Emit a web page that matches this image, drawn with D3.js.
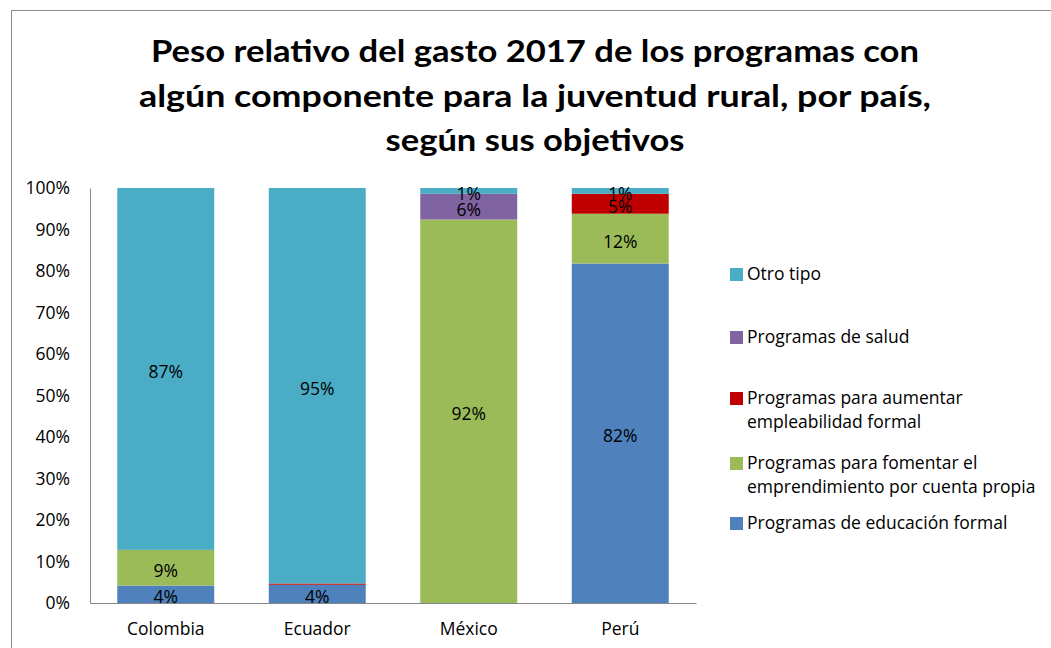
<!DOCTYPE html>
<html><head><meta charset="utf-8">
<script src="https://cdn.jsdelivr.net/npm/d3@7"></script>
<style>body{margin:0;background:#fff}svg{display:block}text{font-family:"Open Sans",sans-serif}</style>
</head><body>
<svg id="c" width="1051" height="648"></svg>
<script>
const categories = ["Colombia","Ecuador","México","Perú"];
const seriesNames = ["Programas de educación formal","Programas para fomentar el emprendimiento por cuenta propia","Programas para aumentar empleabilidad formal","Programas de salud","Otro tipo"];
const educacion   = [4.2, 4.4, 0, 81.8];
const emprende    = [8.6, 0, 92.4, 12.0];
const empleo      = [0, 0.3, 0, 4.8];
const salud       = [0, 0, 6.2, 0];
const otro        = [87.2, 95.3, 1.4, 1.4];
const yTicks = [0,10,20,30,40,50,60,70,80,90,100];
const colors = ["#4F81BD","#9BBB59","#C00000","#8064A2","#4BACC6"];
const titleLines = ["Peso relativo del gasto 2017 de los programas con","algún componente para la juventud rural, por país,","según sus objetivos"];
const legendLines = [["Otro tipo"],["Programas de salud"],["Programas para aumentar","empleabilidad formal"],["Programas para fomentar el","emprendimiento por cuenta propia"],["Programas de educación formal"]];

const FS = 17.5;
const svg = d3.select("#c");
svg.append("rect").attr("x",11.5).attr("y",10.5).attr("width",1100).attr("height",700).attr("fill","none").attr("stroke","#8c8c8c");

const seriesVals = [educacion, emprende, empleo, salud, otro];
const rows = categories.map((c,i)=>{const o={cat:c}; seriesNames.forEach((s,j)=>o[s]=seriesVals[j][i]); return o;});
const stack = d3.stack().keys(seriesNames)(rows);

const x = d3.scaleBand().domain(categories).range([90,696]).paddingInner(0.36).paddingOuter(0.18);
const y = d3.scaleLinear().domain([0,100]).range([603,188]);

// title
const tl = svg.append("g");
titleLines.forEach((t,i)=>{
  tl.append("text").attr("x",535).attr("y",62+i*44.5).attr("text-anchor","middle")
    .attr("font-size",30).attr("font-weight","bold").attr("fill","#000")
    .style("font-family","Lato, sans-serif").text(t);
});
const targetW = [768,792,299];
tl.selectAll("text").each(function(d,i){const w=this.getComputedTextLength(); if(Math.abs(w-targetW[i])>4){d3.select(this).attr("textLength",targetW[i]).attr("lengthAdjust","spacingAndGlyphs");}});

// bars
stack.forEach((s,j)=>{
  svg.append("g").selectAll("rect").data(s).join("rect")
    .attr("x",d=>x(d.data.cat)).attr("width",x.bandwidth())
    .attr("y",d=>y(d[1])).attr("height",d=>Math.max(0,y(d[0])-y(d[1])))
    .attr("fill",colors[j]);
});
// labels
stack.forEach((s,j)=>{
  svg.append("g").selectAll("text").data(s.filter(d=>d[1]-d[0]>=0.5)).join("text")
    .attr("x",d=>x(d.data.cat)+x.bandwidth()/2).attr("y",d=>y((d[0]+d[1])/2)+3).attr("dy","0.35em")
    .attr("text-anchor","middle").attr("font-size",FS).attr("fill","#000")
    .text(d=>Math.round(d[1]-d[0])+"%");
});

// axes
const yAxis = svg.append("g").attr("transform","translate(90,0)")
  .call(d3.axisLeft(y).tickValues(yTicks).tickSize(0).tickPadding(20).tickFormat(d=>d+"%"));
yAxis.select(".domain").attr("stroke","#868686");
yAxis.selectAll("text").attr("font-size",FS).attr("fill","#000").style("font-family","'Open Sans', sans-serif");
const xAxis = svg.append("g").attr("transform","translate(0,603)")
  .call(d3.axisBottom(x).tickSize(0).tickPadding(20));
xAxis.select(".domain").attr("stroke","#868686");
xAxis.selectAll("text").attr("font-size",FS).attr("fill","#000").style("font-family","'Open Sans', sans-serif");

// legend
const legY = [274,337,398,463,523];
const lcol = [colors[4],colors[3],colors[2],colors[1],colors[0]];
legendLines.forEach((lines,i)=>{
  const g = svg.append("g");
  g.append("rect").attr("x",730).attr("y",legY[i]-6).attr("width",13).attr("height",13).attr("fill",lcol[i]);
  lines.forEach((t,k)=>{
    g.append("text").attr("x",747).attr("y",legY[i]+k*24).attr("dy","0.35em").attr("font-size",FS).attr("fill","#000").text(t);
  });
});
</script>
</body></html>
